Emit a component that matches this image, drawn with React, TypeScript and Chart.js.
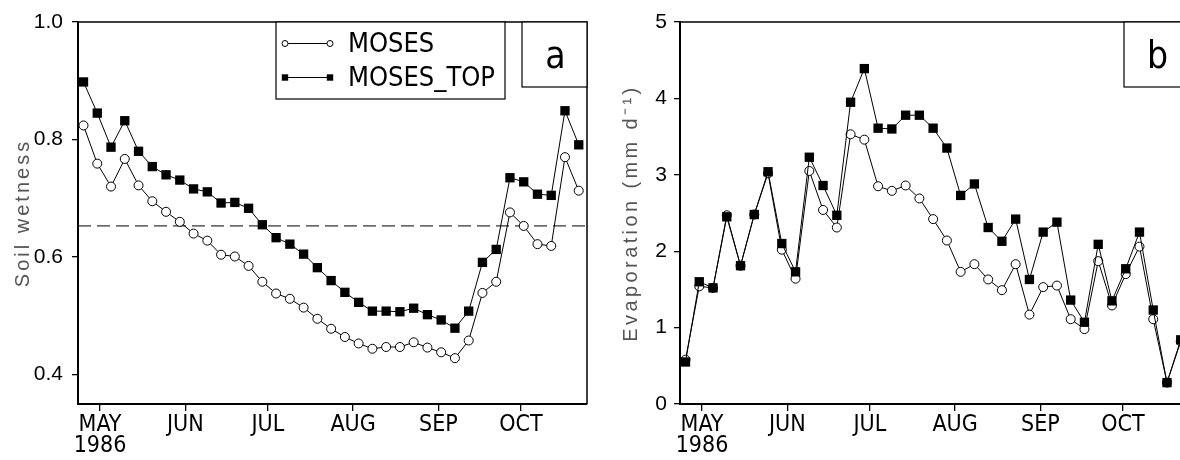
import React, { useEffect, useRef } from 'react';
import { Chart, registerables } from 'chart.js';

Chart.register(...registerables);

// ---------- data ----------
// pentad dates, as day of year 1986
const DAYS = [115, 120, 125, 130, 135, 140, 145, 150, 155, 160, 165, 170, 175, 180, 185, 190, 195, 200, 205, 210, 215, 220, 225, 230, 235, 240, 245, 250, 255, 260, 265, 270, 275, 280, 285, 290, 295];
const X_MIN = 113;
const X_MAX = 298;
const MONTH_DAYS = [121, 152, 182, 213, 244, 274];
const MONTH_LABELS = ['MAY', 'JUN', 'JUL', 'AUG', 'SEP', 'OCT'];
const YEAR_LABEL = '1986';
const SERIES_NAMES = ['MOSES', 'MOSES_TOP'];

const WET_MOSES = [0.824, 0.759, 0.720, 0.767, 0.722, 0.695, 0.677, 0.660, 0.640, 0.628, 0.604, 0.601, 0.585, 0.558, 0.538, 0.529, 0.514, 0.495, 0.478, 0.464, 0.453, 0.444, 0.447, 0.447, 0.455, 0.446, 0.438, 0.428, 0.458, 0.539, 0.558, 0.676, 0.653, 0.622, 0.619, 0.770, 0.713];
const WET_TOP = [0.898, 0.845, 0.787, 0.832, 0.780, 0.754, 0.740, 0.731, 0.716, 0.711, 0.692, 0.693, 0.683, 0.655, 0.633, 0.622, 0.605, 0.582, 0.560, 0.540, 0.523, 0.508, 0.508, 0.507, 0.513, 0.502, 0.493, 0.479, 0.508, 0.591, 0.613, 0.735, 0.728, 0.707, 0.705, 0.849, 0.791];
const WET_THRESHOLD = 0.653;
const WET_TICKS = [0.4, 0.6, 0.8, 1.0];

const EVAP_MOSES = [0.58, 1.54, 1.52, 2.47, 1.81, 2.48, 3.02, 2.02, 1.64, 3.05, 2.54, 2.31, 3.53, 3.46, 2.85, 2.79, 2.86, 2.69, 2.42, 2.14, 1.73, 1.83, 1.63, 1.49, 1.83, 1.17, 1.53, 1.55, 1.11, 0.98, 1.87, 1.29, 1.70, 2.06, 1.11, 0.28, 0.82];
const EVAP_TOP = [0.55, 1.60, 1.52, 2.45, 1.81, 2.48, 3.04, 2.10, 1.73, 3.23, 2.86, 2.47, 3.95, 4.39, 3.61, 3.60, 3.78, 3.78, 3.61, 3.35, 2.73, 2.88, 2.31, 2.13, 2.42, 1.63, 2.25, 2.38, 1.36, 1.07, 2.09, 1.35, 1.77, 2.25, 1.23, 0.28, 0.84];
const EVAP_TICKS = [0, 1, 2, 3, 4, 5];

// ---------- styles ----------
const NARROW = "'Liberation Sans Narrow', 'DejaVu Sans Condensed', 'Liberation Sans', sans-serif";
const SANS = "'Liberation Sans', Arial, sans-serif";

const framePlugin = {
  id: 'frame',
  afterDraw(chart: any, _args: any, opts: any) {
    const { ctx, chartArea: ca } = chart;
    ctx.save();
    // top and right border
    ctx.strokeStyle = '#000';
    ctx.lineWidth = 1.5;
    ctx.beginPath();
    ctx.moveTo(ca.left, ca.top);
    ctx.lineTo(ca.right, ca.top);
    ctx.lineTo(ca.right, ca.bottom);
    ctx.stroke();

    // panel letter box
    const bs = 65;
    ctx.lineWidth = 1.2;
    ctx.fillStyle = '#fff';
    ctx.fillRect(ca.right - bs, ca.top, bs, bs);
    ctx.strokeRect(ca.right - bs, ca.top, bs, bs);
    ctx.fillStyle = '#000';
    ctx.font = `37px ${NARROW}`;
    ctx.textAlign = 'center';
    ctx.textBaseline = 'alphabetic';
    ctx.fillText(opts.panel, ca.right - bs / 2 + 1, ca.top + 46);

    // rotated axis title
    ctx.save();
    ctx.fillStyle = '#555';
    ctx.font = `20px ${SANS}`;
    (ctx as any).letterSpacing = opts.titleSpacing;
    ctx.translate(opts.titleX, (ca.top + ca.bottom) / 2);
    ctx.rotate(-Math.PI / 2);
    ctx.textAlign = 'center';
    ctx.textBaseline = 'alphabetic';
    ctx.fillText(opts.title, 0, 0);
    ctx.restore();

    // legend
    if (opts.legend) {
      const lx = ca.left + 198;
      const lw = 229;
      const lh = 77;
      ctx.fillStyle = '#fff';
      ctx.fillRect(lx, ca.top, lw, lh);
      ctx.lineWidth = 1.2;
      ctx.strokeStyle = '#000';
      ctx.strokeRect(lx, ca.top, lw, lh);
      const rows = [ca.top + 21.5, ca.top + 55.5];
      SERIES_NAMES.forEach((name, i) => {
        const y = rows[i];
        const x1 = lx + 9;
        const x2 = lx + 54;
        ctx.strokeStyle = '#000';
        ctx.lineWidth = 1;
        ctx.beginPath();
        ctx.moveTo(x1, y);
        ctx.lineTo(x2, y);
        ctx.stroke();
        [x1, x2].forEach((x) => {
          if (i === 0) {
            ctx.beginPath();
            ctx.arc(x, y, 3, 0, Math.PI * 2);
            ctx.fillStyle = '#fff';
            ctx.fill();
            ctx.stroke();
          } else {
            ctx.fillStyle = '#000';
            ctx.fillRect(x - 3.2, y - 3.2, 6.4, 6.4);
          }
        });
        ctx.fillStyle = '#000';
        ctx.font = `27px ${NARROW}`;
        ctx.textAlign = 'left';
        ctx.textBaseline = 'middle';
        ctx.fillText(name, lx + 72, y + 1);
      });
    }
    ctx.restore();
  },
};

function makeConfig(p: {
  moses: number[];
  top: number[];
  yMin: number;
  yMax: number;
  yTicks: number[];
  yDigits: number;
  yPad: number;
  title: string;
  titleX: number;
  titleSpacing: string;
  panel: string;
  legend: boolean;
  threshold?: number;
}): any {
  const datasets: any[] = [
    {
      label: SERIES_NAMES[1],
      data: DAYS.map((d, i) => ({ x: d, y: p.top[i] })),
      borderColor: '#000',
      borderWidth: 1,
      pointStyle: 'rect',
      pointRadius: 6.6,
      pointBackgroundColor: '#000',
      pointBorderColor: '#000',
      pointBorderWidth: 0,
      fill: false,
      tension: 0,
    },
    {
      label: SERIES_NAMES[0],
      data: DAYS.map((d, i) => ({ x: d, y: p.moses[i] })),
      borderColor: '#000',
      borderWidth: 1,
      pointStyle: 'circle',
      pointRadius: 4.5,
      pointBackgroundColor: '#fff',
      pointBorderColor: '#000',
      pointBorderWidth: 1,
      fill: false,
      tension: 0,
    },
  ];
  if (p.threshold !== undefined) {
    datasets.push({
      label: 'threshold',
      data: [
        { x: X_MIN, y: p.threshold },
        { x: X_MAX, y: p.threshold },
      ],
      borderColor: '#000',
      borderWidth: 1,
      borderDash: [13, 6],
      pointRadius: 0,
      fill: false,
    });
  }
  return {
    type: 'line',
    data: { datasets },
    options: {
      responsive: false,
      animation: false,
      devicePixelRatio: 1,
      events: [],
      layout: { padding: { top: 22, right: 13, left: 0, bottom: 0 } },
      plugins: {
        legend: { display: false },
        tooltip: { enabled: false },
        frame: { panel: p.panel, title: p.title, titleX: p.titleX, titleSpacing: p.titleSpacing, legend: p.legend },
      },
      scales: {
        x: {
          type: 'linear',
          min: X_MIN,
          max: X_MAX,
          afterBuildTicks: (s: any) => {
            s.ticks = MONTH_DAYS.map((v) => ({ value: v }));
          },
          afterFit: (s: any) => {
            s.height = 56;
          },
          ticks: {
            autoSkip: false,
            maxRotation: 0,
            minRotation: 0,
            padding: 3,
            color: '#000',
            font: { family: NARROW, size: 23, lineHeight: 0.93 },
            callback: (v: number) => {
              const i = MONTH_DAYS.indexOf(v);
              if (i < 0) return '';
              return i === 0 ? [MONTH_LABELS[0], YEAR_LABEL] : MONTH_LABELS[i];
            },
          },
          grid: { display: true, drawOnChartArea: false, drawTicks: true, tickLength: 7, color: '#000', lineWidth: 1.3 },
          border: { display: true, color: '#000', width: 2 },
        },
        y: {
          type: 'linear',
          min: p.yMin,
          max: p.yMax,
          afterBuildTicks: (s: any) => {
            s.ticks = p.yTicks.map((v) => ({ value: v }));
          },
          afterFit: (s: any) => {
            s.width = 78;
          },
          ticks: {
            padding: p.yPad,
            color: '#000',
            font: { family: SANS, size: 21 },
            callback: (v: number) => v.toFixed(p.yDigits),
          },
          grid: { display: true, drawOnChartArea: false, drawTicks: true, tickLength: 6, color: '#000', lineWidth: 1.3 },
          border: { display: true, color: '#000', width: 2 },
        },
      },
    },
    plugins: [framePlugin],
  };
}

export default function App() {
  const refA = useRef<HTMLCanvasElement>(null);
  const refB = useRef<HTMLCanvasElement>(null);

  useEffect(() => {
    const a = new Chart(
      refA.current as HTMLCanvasElement,
      makeConfig({
        moses: WET_MOSES,
        top: WET_TOP,
        yMin: 0.35,
        yMax: 1.0,
        yTicks: WET_TICKS,
        yDigits: 1,
        yPad: 9,
        title: 'Soil wetness',
        titleX: 29,
        titleSpacing: '3px',
        panel: 'a',
        legend: true,
        threshold: WET_THRESHOLD,
      })
    );
    const b = new Chart(
      refB.current as HTMLCanvasElement,
      makeConfig({
        moses: EVAP_MOSES,
        top: EVAP_TOP,
        yMin: 0,
        yMax: 5,
        yTicks: EVAP_TICKS,
        yDigits: 0,
        yPad: 7,
        title: 'Evaporation (mm d\u207B\u00B9)',
        titleX: 35,
        titleSpacing: '3.4px',
        panel: 'b',
        legend: false,
      })
    );
    return () => {
      a.destroy();
      b.destroy();
    };
  }, []);

  return (
    <div style={{ position: 'fixed', left: 0, top: 0, width: 1180, height: 460, overflow: 'hidden', background: '#fff' }}>
      <canvas ref={refA} width={600} height={460} style={{ position: 'absolute', left: 0, top: 0 }} />
      <canvas ref={refB} width={600} height={460} style={{ position: 'absolute', left: 602, top: 0 }} />
    </div>
  );
}
